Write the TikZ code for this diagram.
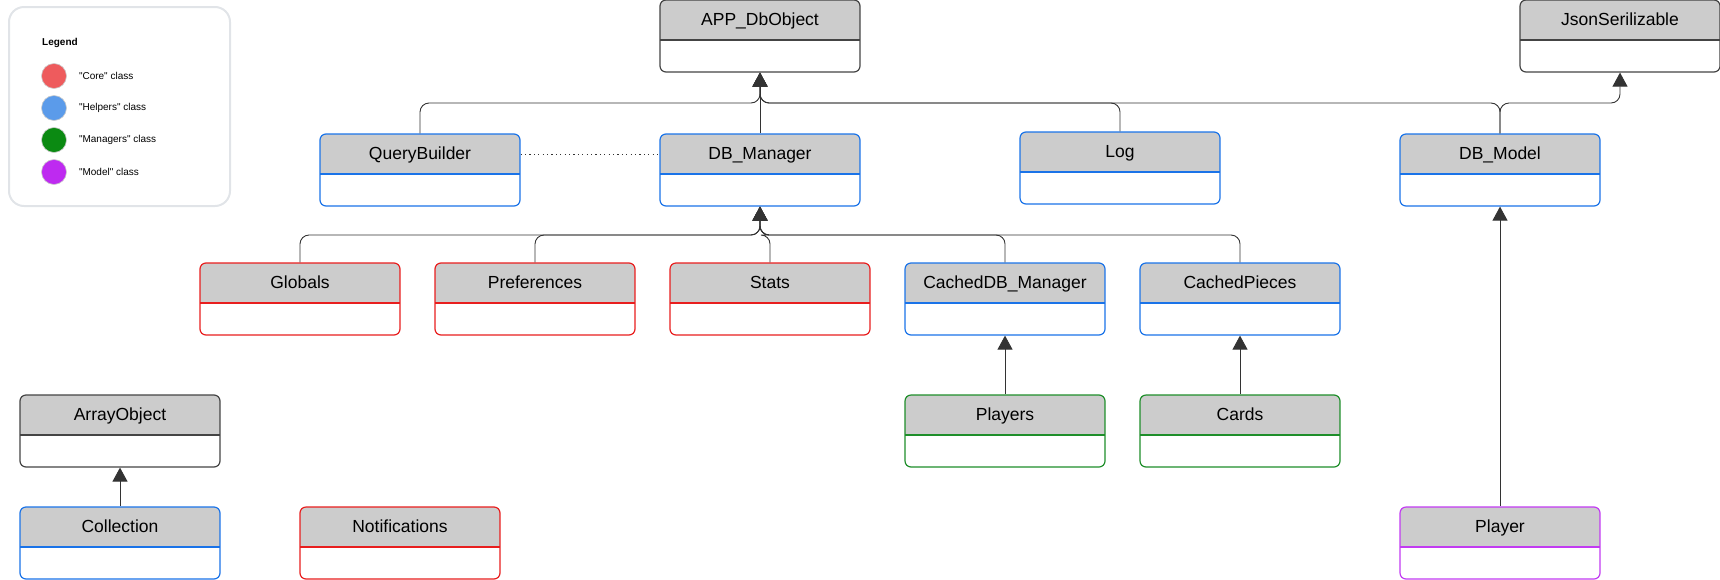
\documentclass[tikz,border=0pt]{standalone}
\usepackage{fontspec}
\setmainfont{Liberation Sans}[Ligatures=TeXOff]
\usetikzlibrary{arrows.meta, positioning}
\definecolor{headgray}{HTML}{CCCCCC}
\definecolor{linegray}{HTML}{333333}
\definecolor{legendborder}{HTML}{E1E4E8}
\definecolor{coreborder}{HTML}{E81E1E}
\definecolor{helperborder}{HTML}{1A73E8}
\definecolor{managerborder}{HTML}{1E8E2A}
\definecolor{modelborder}{HTML}{C23BF2}
\definecolor{baseborder}{HTML}{444444}
\definecolor{corefill}{HTML}{EE5B5D}
\definecolor{helperfill}{HTML}{5B9BEA}
\definecolor{managerfill}{HTML}{0B8A12}
\definecolor{modelfill}{HTML}{BE2AF0}

\begin{document}
\begin{tikzpicture}[
      x=1pt, y=-1pt,
      umlclass/.style={draw=#1, fill=white, line width=1.2pt, rounded corners=6pt,
        minimum width=200pt, minimum height=72pt, inner sep=0pt,
        text height=25pt, text depth=47pt,
        font=\fontsize{17.5}{20}\selectfont,
        path picture={
          \fill[headgray, sharp corners] (path picture bounding box.north west)
            rectangle ([yshift=-40pt]path picture bounding box.north east);
          \draw[#1, line width=1.2pt, sharp corners]
            ([yshift=-40pt]path picture bounding box.north west)
            -- ([yshift=-40pt]path picture bounding box.north east);
        }},
      inherit/.style={draw=linegray, line width=0.9pt, rounded corners=9pt,
        -{Triangle[width=15pt, length=14pt]}},
      legendtext/.style={anchor=west, inner sep=0pt, font=\fontsize{10}{12}\selectfont}
    ]
      \useasboundingbox (0,0) rectangle (1720,579);

      % legend
      \node[draw=legendborder, line width=2pt, rounded corners=15pt,
        minimum width=221pt, minimum height=199pt] (legend) at (119.5,106.5) {};
      \node[legendtext, font=\bfseries\fontsize{10}{12}\selectfont] (legendtitle) at (42,43) {Legend};
      \foreach \col/\txt [count=\i] in {corefill/"Core" class, helperfill/"Helpers" class,
          managerfill/"Managers" class, modelfill/"Model" class} {
        \node[circle, fill=\col, draw=black!20, line width=0.6pt, minimum size=25pt,
          inner sep=0pt] (key\i) at (54,{44+32*\i}) {};
        \node[legendtext, right=12pt of key\i] (keytext\i) {\txt};
      }

      % classes
      \node[umlclass=baseborder] (appdb) at (760,36) {APP\_DbObject};
      \node[umlclass=baseborder] (json) at (1620,36) {JsonSerilizable};
      \node[umlclass=helperborder] (querybuilder) at (420,170) {QueryBuilder};
      \node[umlclass=helperborder] (dbmanager) at (760,170) {DB\_Manager};
      \node[umlclass=helperborder] (log) at (1120,168) {Log};
      \node[umlclass=helperborder] (dbmodel) at (1500,170) {DB\_Model};
      \node[umlclass=coreborder] (globals) at (300,299) {Globals};
      \node[umlclass=coreborder] (preferences) at (535,299) {Preferences};
      \node[umlclass=coreborder] (stats) at (770,299) {Stats};
      \node[umlclass=helperborder] (cacheddb) at (1005,299) {CachedDB\_Manager};
      \node[umlclass=helperborder] (cachedpieces) at (1240,299) {CachedPieces};
      \node[umlclass=baseborder] (arrayobject) at (120,431) {ArrayObject};
      \node[umlclass=managerborder] (players) at (1005,431) {Players};
      \node[umlclass=managerborder] (cards) at (1240,431) {Cards};
      \node[umlclass=helperborder] (collection) at (120,543) {Collection};
      \node[umlclass=coreborder] (notifications) at (400,543) {Notifications};
      \node[umlclass=modelborder] (player) at (1500,543) {Player};

      \coordinate (topbus) at (760,103);
      \coordinate (midbus) at (760,235);

      % inheritance
      \draw[inherit] (dbmanager.north) -- (appdb.south);
      \foreach \c in {querybuilder, log, dbmodel}
        \draw[inherit] (\c.north) |- (topbus) -- (appdb.south);
      \draw[inherit] (dbmodel.north) |- (json.south |- topbus) -- (json.south);
      \foreach \c in {globals, preferences, stats, cacheddb, cachedpieces}
        \draw[inherit] (\c.north) |- (midbus) -- (dbmanager.south);
      \draw[inherit] (players) -- (cacheddb);
      \draw[inherit] (cards) -- (cachedpieces);
      \draw[inherit] (collection) -- (arrayobject);
      \draw[inherit] (player) -- (dbmodel);

      % association
      \draw[linegray, line width=1pt, dash pattern=on 1.2pt off 3.2pt]
        ([yshift=16pt]querybuilder.east) -- ([yshift=16pt]dbmanager.west);
    \end{tikzpicture}
\end{document}
